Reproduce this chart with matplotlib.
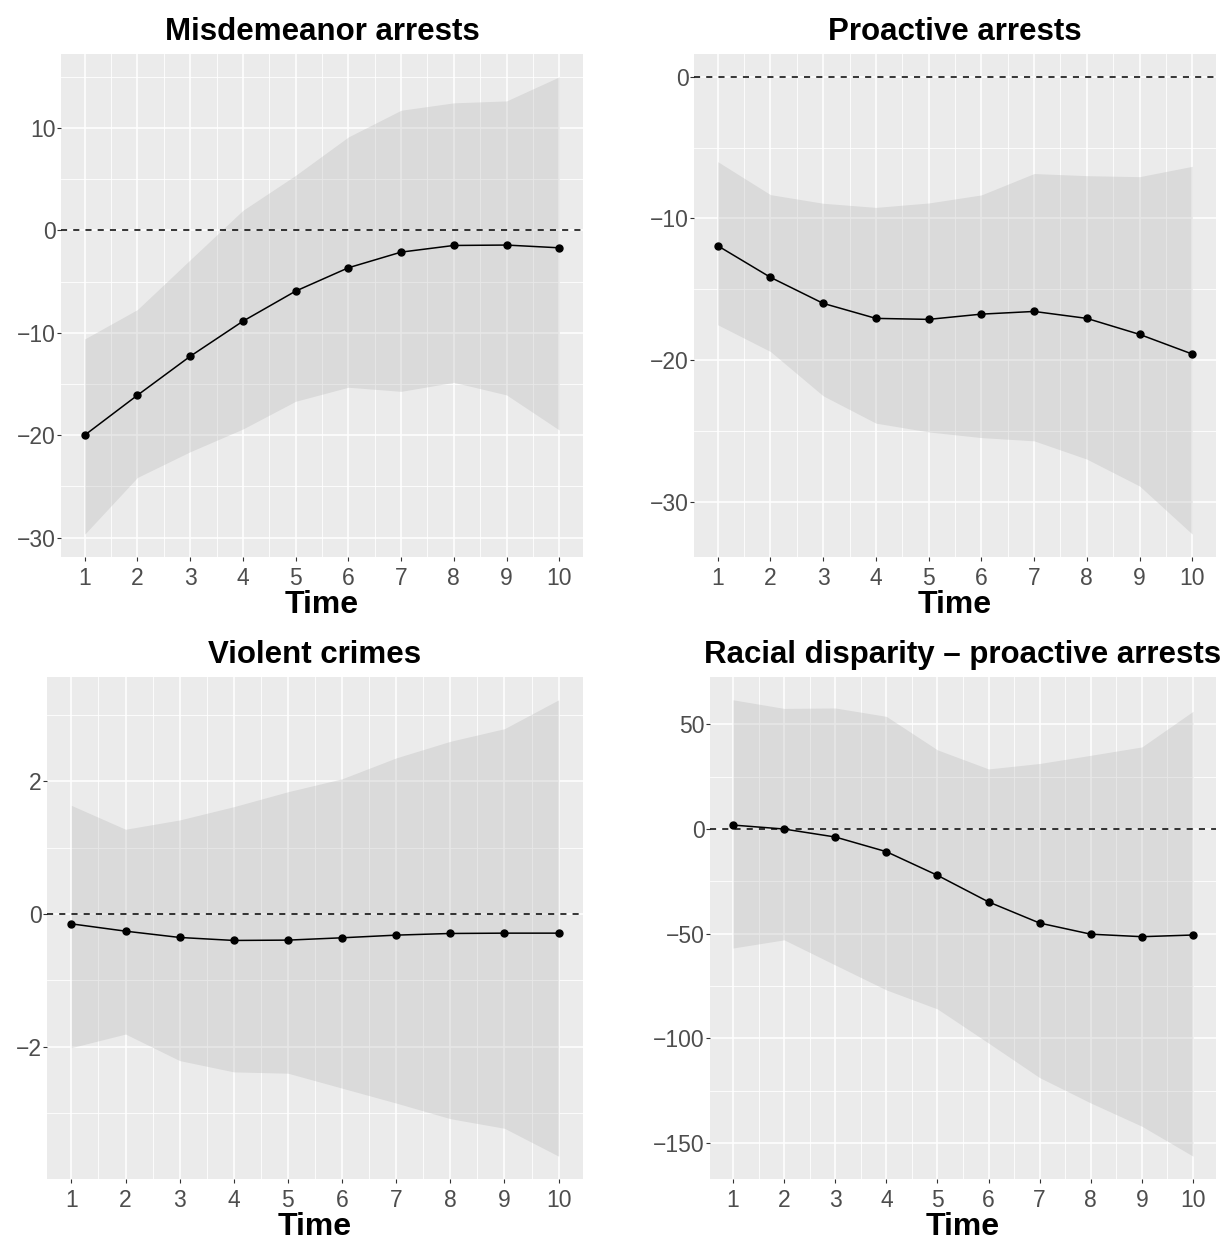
import matplotlib
matplotlib.use("Agg")
import matplotlib.pyplot as plt
from matplotlib.ticker import MultipleLocator
import numpy as np

plt.rcParams['font.family'] = ['Liberation Sans', 'DejaVu Sans']

time = np.arange(1, 11)

# Misdemeanor arrests
misd_est = [-20.0, -16.1, -12.3, -8.87, -5.93, -3.65, -2.12, -1.47, -1.43, -1.70]
misd_hi = [-10.6, -7.73, -2.87, 1.96, 5.38, 9.13, 11.74, 12.46, 12.65, 15.0]
misd_lo = [-29.67, -24.13, -21.62, -19.40, -16.69, -15.32, -15.72, -14.84, -16.07, -19.50]

# Proactive arrests
proa_est = [-11.93, -14.16, -16.0, -17.06, -17.13, -16.76, -16.57, -17.06, -18.19, -19.58]
proa_hi = [-5.99, -8.32, -8.93, -9.22, -8.91, -8.34, -6.83, -6.98, -7.05, -6.32]
proa_lo = [-17.51, -19.40, -22.53, -24.46, -25.08, -25.48, -25.71, -27.0, -28.9, -32.3]

# Violent crimes
viol_est = [-0.15, -0.26, -0.355, -0.40, -0.395, -0.36, -0.32, -0.295, -0.29, -0.29]
viol_hi = [1.635, 1.275, 1.415, 1.615, 1.84, 2.035, 2.35, 2.60, 2.79, 3.225]
viol_lo = [-2.015, -1.81, -2.21, -2.38, -2.40, -2.625, -2.85, -3.085, -3.23, -3.65]

# Racial disparity - proactive arrests
race_est = [1.9, 0.0, -3.8, -10.8, -22.1, -34.8, -44.9, -50.2, -51.4, -50.6]
race_hi = [61.7, 57.6, 57.8, 53.8, 37.8, 28.7, 31.3, 35.2, 39.2, 56.2]
race_lo = [-56.8, -52.9, -64.9, -76.8, -85.9, -102.2, -118.7, -130.8, -141.9, -156.2]

panels = [
    ("Misdemeanor arrests", misd_est, misd_lo, misd_hi, 10, (61, 583, 54, 557)),
    ("Proactive arrests", proa_est, proa_lo, proa_hi, 10, (694, 1216, 54, 557)),
    ("Violent crimes", viol_est, viol_lo, viol_hi, 2, (47, 583, 677, 1179)),
    ("Racial disparity \u2013 proactive arrests", race_est, race_lo, race_hi, 50, (710, 1216, 677, 1179)),
]

W, H = 1231, 1243
fig = plt.figure(figsize=(W / 100, H / 100), dpi=100)

for title, est, lo, hi, step, (x0, x1, y0, y1) in panels:
    ax = fig.add_axes([x0 / W, 1 - y1 / H, (x1 - x0) / W, (y1 - y0) / H])
    ax.set_facecolor('#EBEBEB')
    for s in ax.spines.values():
        s.set_visible(False)

    ax.fill_between(time, lo, hi, color='#B3B3B3', alpha=0.3, linewidth=0, zorder=1)
    ax.axhline(0, color='black', lw=1.1, linestyle=(0, (4, 4)), zorder=2)
    ax.plot(time, est, color='black', lw=1.1, zorder=3)
    ax.plot(time, est, 'o', color='black', markersize=5, zorder=4)

    # limits like ggplot: data range incl. the zero line, 5% expansion
    ymin = min(min(lo), 0)
    ymax = max(max(hi), 0)
    pad = 0.05 * (ymax - ymin)
    ax.set_ylim(ymin - pad, ymax + pad)
    ax.set_xlim(1 - 0.45, 10 + 0.45)

    ax.xaxis.set_major_locator(MultipleLocator(1))
    ax.xaxis.set_minor_locator(MultipleLocator(0.5))
    ax.yaxis.set_major_locator(MultipleLocator(step))
    ax.yaxis.set_minor_locator(MultipleLocator(step / 2))

    ax.set_axisbelow(True)
    ax.grid(which='major', color='white', lw=1.15)
    ax.grid(which='minor', color='white', lw=0.6)

    ax.tick_params(which='major', length=3, width=0.8, color='#333333',
                   labelsize=16.5, labelcolor='#4D4D4D')
    ax.tick_params(axis='x', which='major', pad=4.5)
    ax.tick_params(axis='y', which='major', pad=1)
    ax.tick_params(which='minor', length=0)

    ax.set_title(title, fontsize=22.5, fontweight='bold', pad=10)
    ax.set_xlabel("Time", fontsize=23, fontweight='bold', labelpad=0)

fig.savefig("out.png", dpi=100)
